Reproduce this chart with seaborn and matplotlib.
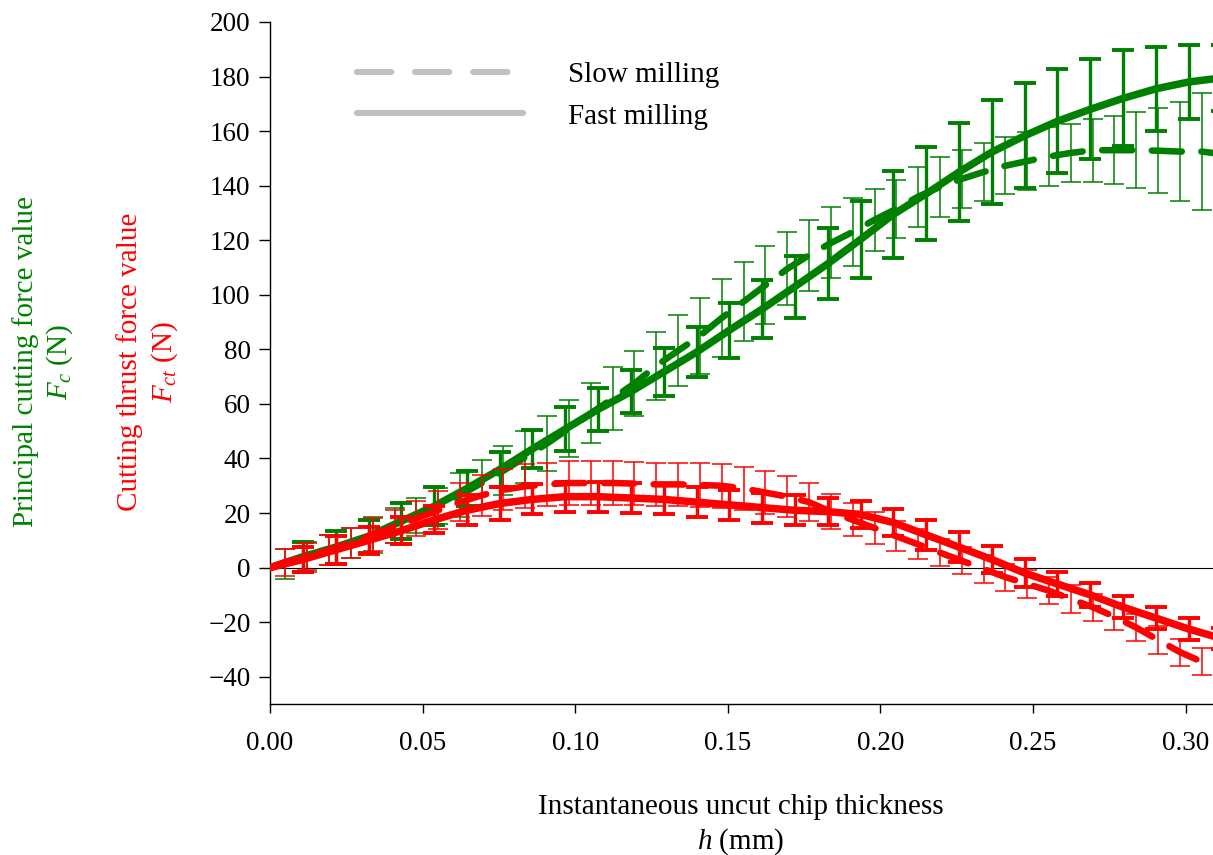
import numpy as np
import matplotlib
matplotlib.use("Agg")
import matplotlib.pyplot as plt
from matplotlib.lines import Line2D
from matplotlib.ticker import FormatStrFormatter
import seaborn as sns

# ---------------- data ----------------
h_fast = [0.0108, 0.0215, 0.0323, 0.0430, 0.0538, 0.0645, 0.0753, 0.0860, 0.0968,
          0.1075, 0.1183, 0.1290, 0.1398, 0.1505, 0.1613, 0.1720, 0.1828, 0.1935,
          0.2043, 0.2150, 0.2258, 0.2365, 0.2473, 0.2580, 0.2688, 0.2795, 0.2903,
          0.3010, 0.3118]
fc_fast = [4, 7.5, 11.5, 17, 22.5, 29, 36, 43.5, 50.8, 58, 64.5, 71.7, 79, 87, 94.8,
           103, 111.4, 120.3, 129.5, 137, 145, 152.3, 158.3, 163.6, 168, 172, 175.5,
           178, 179.5]
fc_fast_err = [5.5, 6, 6, 6.5, 7, 6.5, 6.5, 7, 8, 8, 8, 8.8, 9.2, 10, 10.7, 11.4, 13,
               14.2, 16, 17, 18, 19, 19.2, 19, 18.4, 17.6, 15.3, 13.6, 12]
fct_fast = [3, 6.5, 10, 13.5, 17.5, 21, 23.5, 25, 26, 26, 25.5, 25, 24, 23, 22, 21,
            20.5, 19.5, 16.5, 12, 7.5, 3, -2, -6, -10, -14.5, -18.5, -22.5, -26]
fct_fast_err = [4.5, 5, 5, 5, 5, 5.5, 6, 5.5, 5.5, 5.5, 5.5, 5.5, 5.5, 5.5, 5.5, 5.5,
                5, 5, 5, 5.5, 5.5, 5, 5, 4.5, 4.5, 4, 4, 4, 4]

h_slow = [0.0050, 0.0122, 0.0193, 0.0265, 0.0336, 0.0408, 0.0479, 0.0551, 0.0622,
          0.0694, 0.0765, 0.0837, 0.0908, 0.0980, 0.1051, 0.1123, 0.1194, 0.1266,
          0.1337, 0.1409, 0.1480, 0.1552, 0.1623, 0.1695, 0.1766, 0.1838, 0.1909,
          0.1981, 0.2052, 0.2124, 0.2195, 0.2267, 0.2338, 0.2410, 0.2481, 0.2553,
          0.2624, 0.2696, 0.2767, 0.2839, 0.2910, 0.2982, 0.3053, 0.3125]
fc_slow = [1.5, 4, 6.5, 9, 12, 15.5, 19, 22.5, 26.5, 31, 35.5, 40.5, 45.5, 51, 56.5,
           62, 67.5, 74, 79.5, 85, 91.5, 97.5, 103.5, 109.5, 114.5, 119, 123, 127.5,
           131.5, 136, 139.5, 142.5, 145, 147.3, 149, 150.7, 152, 153, 153, 153,
           152.8, 152.5, 152.5, 151.5]
fc_slow_err = [5.5, 5.5, 5.5, 5.5, 6.5, 6.5, 6.5, 6.5, 8, 8.5, 9, 9.5, 10, 10.5, 11,
               11.5, 12, 12.5, 13, 14, 14.3, 14.4, 14.3, 13.4, 13, 13, 12.3, 11.3,
               10.7, 11, 11, 10.6, 10.5, 10.4, 10.6, 10.7, 10.7, 11.5, 12.5, 14, 15.6,
               18, 21.5, 24]
fct_slow = [2, 4, 6.5, 9, 12, 15, 18, 21, 24, 26.5, 28.5, 29.8, 30.5, 31, 31, 31, 30.8,
            30.5, 30.5, 30.3, 30, 29, 27.5, 26, 24, 20.5, 17.5, 14.5, 11.5, 8.5, 5.5,
            2.5, -0.5, -3.5, -6, -8.5, -11.5, -14.5, -18, -22, -26.5, -31, -34.5, -38]
fct_slow_err = [5, 5, 5.5, 5.5, 6, 6, 6.5, 7, 7, 7.5, 7.5, 8, 8, 8, 8, 8, 8, 8, 8, 8,
                8, 8, 8, 7.5, 7, 6.5, 6, 6, 5.5, 5.5, 5, 5, 5, 5, 5, 5, 5, 5, 5, 5, 5,
                5, 5, 5]

x_ticks = [0.00, 0.05, 0.10, 0.15, 0.20, 0.25, 0.30]
y_ticks = [-40, -20, 0, 20, 40, 60, 80, 100, 120, 140, 160, 180, 200]
legend_labels = ["Slow milling", "Fast milling"]

# ---------------- style ----------------
sns.set_style("ticks")
plt.rcParams['font.family'] = ['Liberation Serif', 'DejaVu Serif']
plt.rcParams['mathtext.fontset'] = 'custom'
plt.rcParams['mathtext.rm'] = 'Liberation Serif'
plt.rcParams['mathtext.it'] = 'Liberation Serif:italic'
plt.rcParams['text.color'] = 'black'
plt.rcParams['axes.labelcolor'] = 'black'
plt.rcParams['xtick.color'] = 'black'
plt.rcParams['ytick.color'] = 'black'

GREEN = '#008000'
RED = '#ff0000'
LW_FAST = 5.4
LW_SLOW = 4.7
DASH = (0, (4.6, 3.0))
FS_TICK = 19.5
FS_TEXT = 21

fig = plt.figure(figsize=(12.13, 8.55), dpi=100)
ax = fig.add_axes([0.2226, 0.1766, 0.7774, 0.7977])

ax.axhline(0, color='black', lw=0.8, zorder=1)


def draw_series(h, m, e, color, fast, z):
    if fast:
        ax.errorbar(h, m, yerr=e, fmt='none', ecolor=color, elinewidth=2.4,
                    capsize=8, capthick=2.8, zorder=z)
    else:
        ax.errorbar(h, m, yerr=e, fmt='none', ecolor=color, elinewidth=1.1,
                    capsize=7, capthick=1.1, zorder=z)
    xs = [0.0] + list(h)
    ys = [0.0] + list(m)
    if fast:
        sns.lineplot(x=xs, y=ys, ax=ax, color=color, linewidth=LW_FAST,
                     estimator=None, sort=False, solid_capstyle='round', zorder=z + 1)
    else:
        sns.lineplot(x=xs, y=ys, ax=ax, color=color, linewidth=LW_SLOW,
                     estimator=None, sort=False, linestyle=DASH,
                     dash_capstyle='round', zorder=z + 1)


draw_series(h_slow, fc_slow, fc_slow_err, GREEN, False, 2)
draw_series(h_fast, fc_fast, fc_fast_err, GREEN, True, 4)
draw_series(h_slow, fct_slow, fct_slow_err, RED, False, 6)
draw_series(h_fast, fct_fast, fct_fast_err, RED, True, 8)

ax.set_xlim(0, 0.309)
ax.set_ylim(-50, 200)
ax.set_xticks(x_ticks)
ax.set_yticks(y_ticks)
ax.xaxis.set_major_formatter(FormatStrFormatter('%.2f'))
for s in ['top', 'right']:
    ax.spines[s].set_visible(False)
for s in ['left', 'bottom']:
    ax.spines[s].set_linewidth(1.0)
    ax.spines[s].set_color('black')
ax.tick_params(axis='y', length=8, width=1, pad=6, labelsize=FS_TICK, colors='black')
ax.tick_params(axis='x', length=6.5, width=1, pad=13, labelsize=FS_TICK, colors='black')
ax.set_xlabel("")
ax.set_ylabel("")

fig.text(0.611, 0.0345, "Instantaneous uncut chip thickness\n$h$ (mm)",
         ha='center', va='center', fontsize=FS_TEXT, linespacing=1.25)
fig.text(0.036, 0.577, "Principal cutting force value\n$F_c$ (N)", color=GREEN,
         rotation=90, ha='center', va='center', fontsize=FS_TEXT, linespacing=1.25,
         multialignment='center')
fig.text(0.122, 0.577, "Cutting thrust force value\n$F_{ct}$ (N)", color=RED,
         rotation=90, ha='center', va='center', fontsize=FS_TEXT, linespacing=1.25,
         multialignment='center')

handles = [Line2D([0], [0], color='#c0c0c0', lw=4.4, linestyle=(0, (5.6, 3.9)),
                  dash_capstyle='round'),
           Line2D([0], [0], color='#c0c0c0', lw=4.4, solid_capstyle='round')]
ax.legend(handles, legend_labels, loc='upper left', bbox_to_anchor=(0.092, 0.942),
          frameon=False, fontsize=FS_TEXT, handlelength=5.7, handletextpad=1.55,
          labelspacing=0.52, borderpad=0, borderaxespad=0)

fig.savefig("out.png", dpi=100)
